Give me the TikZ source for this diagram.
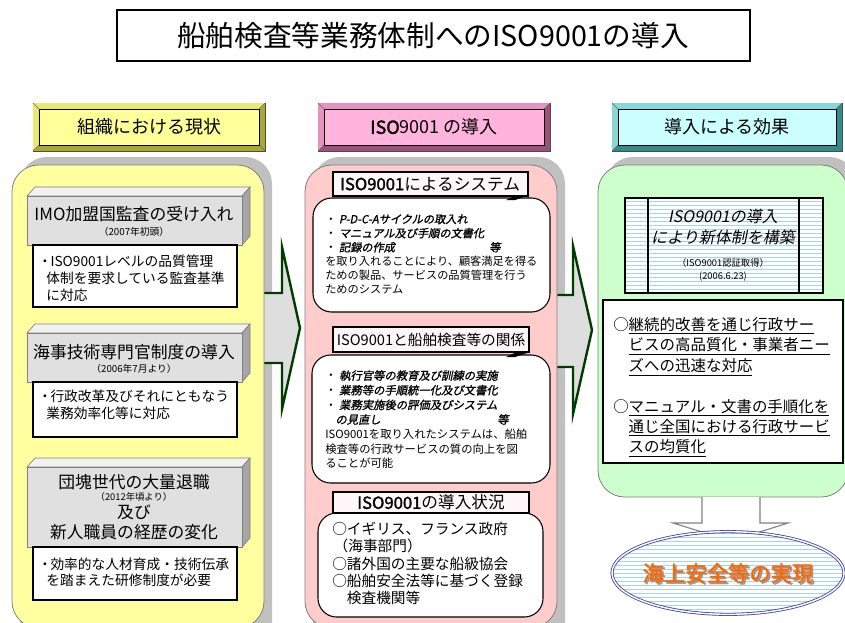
\documentclass[tikz,border=0pt]{standalone}
\usepackage{fontspec}
\setmainfont{Noto Sans CJK JP}
\newfontfamily\jpbf[FakeBold=1.6]{Noto Sans CJK JP}
\newfontfamily\jpit[FakeSlant=0.2]{Noto Sans CJK JP}
\newfontfamily\jpbi[FakeSlant=0.2,FakeBold=1.2]{Noto Sans CJK JP}
\usepackage{tikz}
\usetikzlibrary{patterns,shapes.geometric}

\definecolor{yelIn}{RGB}{255,255,153}
\definecolor{yelLite}{RGB}{232,232,115}
\definecolor{yelDark}{RGB}{168,168,50}
\definecolor{pinkIn}{RGB}{255,180,222}
\definecolor{pinkLite}{RGB}{232,145,195}
\definecolor{pinkDark}{RGB}{160,80,125}
\definecolor{cyanIn}{RGB}{204,255,255}
\definecolor{cyanLite}{RGB}{135,215,215}
\definecolor{cyanDark}{RGB}{50,140,140}
\definecolor{panelYel}{RGB}{255,255,160}
\definecolor{panelPink}{RGB}{255,204,204}
\definecolor{panelGreen}{RGB}{204,255,204}
\definecolor{shadowGray}{RGB}{192,192,192}
\definecolor{arrowGray}{RGB}{222,222,222}
\definecolor{arrowGreen}{RGB}{0,60,0}
\definecolor{stripeBlue}{RGB}{165,212,235}
\definecolor{ringBlue}{RGB}{60,60,170}
\definecolor{goalOrange}{RGB}{255,102,0}
\definecolor{labelTint}{RGB}{255,246,250}

% narrow bullet
\newcommand\halfdot{\makebox[0.6em][l]{\hspace{-0.3em}・}}

\begin{document}
\begin{tikzpicture}[x=0.75pt,y=0.75pt,yscale=-1,xscale=1,
  panelshadow/.style={fill=shadowGray,rounded corners=20pt},
  panel/.style={draw=gray,line width=0.6pt,rounded corners=20pt},
  bigarrow/.style={fill=arrowGray,draw=arrowGreen,line width=1.8pt,line join=miter},
  boxfront/.style={fill=black!12,draw=gray,line width=0.5pt},
  boxtop/.style={fill=black!5,draw=gray,line width=0.5pt},
  boxside/.style={fill=black!35,draw=gray,line width=0.5pt},
  notebox/.style={fill=white,draw=black,line width=0.8pt},
  labelbox/.style={fill=labelTint,draw=black,line width=0.9pt},
  callout/.style={fill=white,draw=black,line width=0.8pt,rounded corners=14pt},
  txt/.style={inner sep=0.75pt}]
\useasboundingbox (0,0) rectangle (845,622);
\clip (0,0) rectangle (845,622);

%Title
\draw[line width=1pt] (117,10) rectangle (750,61);
\draw (433,36) node (title) [txt,font=\fontsize{21.5}{24}\selectfont] {船舶検査等業務体制へのISO9001の導入};

%Header: state
\draw[fill=yelDark,draw=black!70] (33,103) rectangle (265,151);
\fill[yelLite] (33,103) -- (265,103) -- (259,109) -- (39,109) -- (39,145) -- (33,151) -- cycle;
\draw[black!60] (33,103) -- (39,109) (265,103) -- (259,109) (33,151) -- (39,145) (265,151) -- (259,145);
\draw[fill=yelIn,draw=black] (39,109) rectangle (259,145);
\draw (149,127) node (headState) [txt,font=\fontsize{13.5}{16}\selectfont] {組織における現状};

%Header: iso
\draw[fill=pinkDark,draw=black!70] (318,103) rectangle (550,151);
\fill[pinkLite] (318,103) -- (550,103) -- (544,109) -- (324,109) -- (324,145) -- (318,151) -- cycle;
\draw[black!60] (318,103) -- (324,109) (550,103) -- (544,109) (318,151) -- (324,145) (550,151) -- (544,145);
\draw[fill=pinkIn,draw=black] (324,109) rectangle (544,145);
\draw (434,127) node (headIso) [txt,font=\fontsize{13.5}{16}\selectfont] {{\jpbf ISO}9001 の導入};

%Header: effect
\draw[fill=cyanDark,draw=black!70] (612,103) rectangle (842,151);
\fill[cyanLite] (612,103) -- (842,103) -- (836,109) -- (618,109) -- (618,145) -- (612,151) -- cycle;
\draw[black!60] (612,103) -- (618,109) (842,103) -- (836,109) (612,151) -- (618,145) (842,151) -- (836,145);
\draw[fill=cyanIn,draw=black] (618,109) rectangle (836,145);
\draw (727,127) node (headEffect) [txt,font=\fontsize{13.5}{16}\selectfont] {導入による効果};

%Panel shadows
\fill[panelshadow] (20,157) rectangle (272,660);
\fill[panelshadow] (313,157) rectangle (565,660);
\fill[panelshadow] (606,157) rectangle (856,489);

%Block arrows
\draw[bigarrow] (250,293) -- (282,293) -- (282,247) -- (300,328) -- (282,409) -- (282,363) -- (250,363) -- cycle;
\draw[bigarrow] (540,295) -- (573,295) -- (573,246) -- (592,330) -- (573,414) -- (573,367) -- (540,367) -- cycle;

%Panels
\draw[panel,fill=panelYel] (12,165) rectangle (264,628);
\draw[panel,fill=panelPink] (305,165) rectangle (557,628);
\draw[panel,fill=panelGreen] (598,165) rectangle (848,497);

%Left column: item 1
\draw[boxtop] (27,196) -- (35,187) -- (250,187) -- (242,196) -- cycle;
\draw[boxside] (242,196) -- (250,187) -- (250,236) -- (242,245) -- cycle;
\draw[boxfront] (27,196) rectangle (242,245);
\draw (134,214) node (imoTitle) [txt,font=\fontsize{12.6}{15}\selectfont] {IMO加盟国監査の受け入れ};
\draw (134,232) node (imoDate) [txt,font=\fontsize{7.3}{9}\selectfont] {（2007年初頭）};
\draw[notebox] (33,245) rectangle (237,307);
\draw (41,254) node (imoNote) [txt,anchor=north west,align=left,font=\fontsize{10.3}{12.75}\selectfont] {\halfdot ISO9001レベルの品質管理\\\hspace*{0.3em}体制を要求している監査基準\\\hspace*{0.3em}に対応};

%Left column: item 2
\draw[boxtop] (27,333) -- (35,324) -- (250,324) -- (242,333) -- cycle;
\draw[boxside] (242,333) -- (250,324) -- (250,373) -- (242,382) -- cycle;
\draw[boxfront] (27,333) rectangle (242,382);
\draw (134,352) node (expTitle) [txt,font=\fontsize{12.6}{15}\selectfont] {海事技術専門官制度の導入};
\draw (134,369) node (expDate) [txt,font=\fontsize{7.3}{9}\selectfont] {（2006年7月より）};
\draw[notebox] (33,382) rectangle (237,437);
\draw (41,389) node (expNote) [txt,anchor=north west,align=left,font=\fontsize{10.3}{12.75}\selectfont] {\halfdot 行政改革及びそれにともなう\\\hspace*{0.3em}業務効率化等に対応};

%Left column: item 3
\draw[boxtop] (27,467) -- (35,458) -- (250,458) -- (242,467) -- cycle;
\draw[boxside] (242,467) -- (250,458) -- (250,538) -- (242,547) -- cycle;
\draw[boxfront] (27,467) rectangle (242,547);
\draw (134,482) node (retireTitle) [txt,font=\fontsize{12.6}{15}\selectfont] {団塊世代の大量退職};
\draw (134,497) node (retireDate) [txt,font=\fontsize{7}{9}\selectfont] {（2012年頃より）};
\draw (134,512) node (retireAnd) [txt,font=\fontsize{12.6}{15}\selectfont] {及び};
\draw (134,532) node (careerTitle) [txt,font=\fontsize{12.6}{15}\selectfont] {新人職員の経歴の変化};
\draw[notebox] (33,547) rectangle (237,600);
\draw (41,557) node (trainNote) [txt,anchor=north west,align=left,font=\fontsize{10.3}{12}\selectfont] {\halfdot 効率的な人材育成・技術伝承\\\hspace*{0.3em}を踏まえた研修制度が必要};

%Middle column: system
\draw[callout] (313,198) rectangle (550,312);
\fill (506,200) -- (521,193) -- (527,196) -- (515,200) -- cycle;
\draw[labelbox] (333,172) rectangle (528,196);
\draw (430,184) node (sysLabel) [txt,font=\fontsize{12.5}{14}\selectfont] {{\jpbf ISO9001}によるシステム};
\draw (324,213) node (sysBody) [txt,anchor=north west,align=left,font=\fontsize{8.4}{10.6}\selectfont] {・ {\jpbi P-D-C-Aサイクルの取入れ}\\・ {\jpbi マニュアル及び手順の文書化}\\\makebox[123pt][l]{・ {\jpbi 記録の作成}}{\jpbi 等}\\を取り入れることにより、顧客満足を得る\\ための製品、サービスの品質管理を行う\\ためのシステム};

%Middle column: relation
\draw[callout] (312,355) rectangle (550,483);
\fill (506,357) -- (521,350) -- (527,353) -- (515,357) -- cycle;
\draw[labelbox] (333,327) rectangle (529,352);
\draw (431,339.5) node (relLabel) [txt,font=\fontsize{11}{13}\selectfont] {ISO9001と船舶検査等の関係};
\draw (324,369) node (relBody) [txt,anchor=north west,align=left,font=\fontsize{8.5}{11}\selectfont] {・ {\jpbi 執行官等の教育及び訓練の実施}\\・ {\jpbi 業務等の手順統一化及び文書化}\\・ {\jpbi 業務実施後の評価及びシステム}\\\makebox[129pt][l]{\hspace*{0.9em}{\jpbi の見直し}}{\jpbi 等}\\ISO9001を取り入れたシステムは、船舶\\検査等の行政サービスの質の向上を図\\ることが可能};

%Middle column: status
\draw[callout] (318,513) rectangle (543,617);
\draw[labelbox] (333,492) rectangle (529,513);
\draw (431,502.5) node (statLabel) [txt,font=\fontsize{12.5}{14}\selectfont] {{\jpbf ISO9001}の導入状況};
\draw (331,521) node (statBody) [txt,anchor=north west,align=left,font=\fontsize{11}{12.9}\selectfont] {○イギリス、フランス政府\\\hspace*{0.1em}（海事部門）\\○諸外国の主要な船級協会\\○船舶安全法等に基づく登録\\\hspace*{1em}検査機関等};

%Right column: new system
\fill[white] (625,198) rectangle (823,293);
\fill[pattern=horizontal lines,pattern color=stripeBlue] (625,198) rectangle (823,293);
\draw[line width=1.8pt] (625,198) rectangle (823,293) (648,198) -- (648,293) (799,198) -- (799,293);
\draw (723,216) node (newTitle) [txt,font=\fontsize{12}{14}\jpit\selectfont] {ISO9001の導入};
\draw (723,237) node (newSub) [txt,font=\fontsize{12}{14}\jpit\selectfont] {により新体制を構築};
\draw (723,263) node (certNote) [txt,font=\fontsize{7}{9}\selectfont] {（ISO9001認証取得）};
\draw (723,277) node (certDate) [txt,font=\fontsize{7}{9}\selectfont] {(2006.6.23)};

%Right column: effects
\draw[line width=1pt,fill=white] (603,300) rectangle (843,463);
\draw (612,316) node (effectA) [txt,anchor=north west,align=left,font=\fontsize{11.6}{15.5}\selectfont] {○\underline{継続的改善を通じ行政サー}\\\hphantom{○}\underline{ビスの高品質化・事業者ニー}\\\hphantom{○}\underline{ズへの迅速な対応}};
\draw (612,398) node (effectB) [txt,anchor=north west,align=left,font=\fontsize{11.6}{15.2}\selectfont] {○\underline{マニュアル・文書の手順化を}\\\hphantom{○}\underline{通じ全国における行政サービ}\\\hphantom{○}\underline{スの均質化}};

%Down arrow
\draw[fill=white,draw=gray,line width=0.8pt] (702,497) -- (702,523) -- (673,523) -- (731,541) -- (788,523) -- (760,523) -- (760,497);

%Goal
\draw (728,573) node (goal) [ellipse,minimum width=174pt,minimum height=62pt,draw=ringBlue,double=white,double distance=1.1pt,line width=0.6pt,preaction={fill=white},pattern=horizontal lines,pattern color=stripeBlue] {};
\draw (728,574) node (goalText) [txt,font=\fontsize{16}{18}\jpbf\selectfont,text=goalOrange] {{\color{black!40}\rlap{\hspace{1.2pt}\raisebox{-1.2pt}{海上安全等の実現}}}海上安全等の実現};
\end{tikzpicture}
\end{document}
